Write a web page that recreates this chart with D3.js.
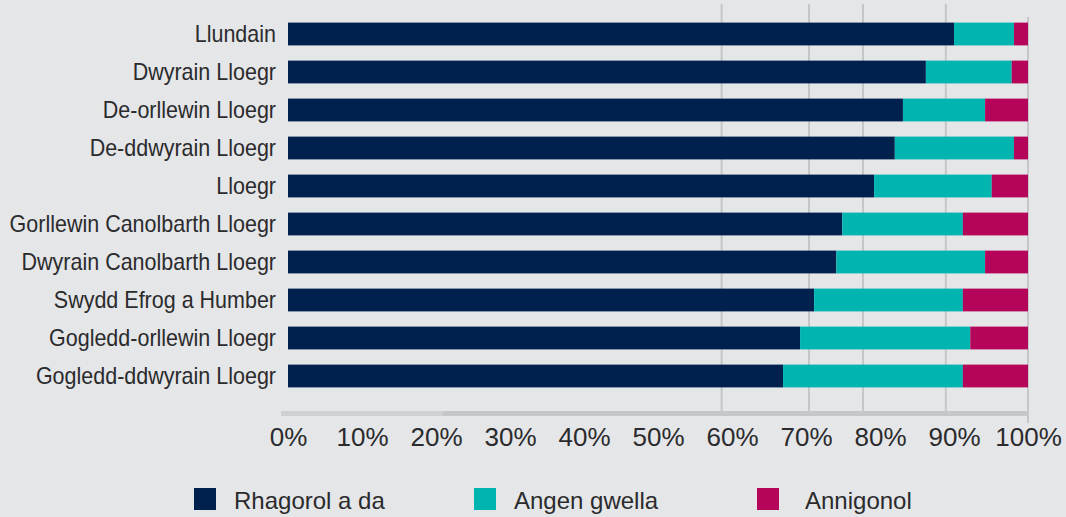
<!DOCTYPE html>
<html>
<head>
<meta charset="utf-8">
<script src="https://cdn.jsdelivr.net/npm/d3@7"></script>
<style>
  html, body { margin: 0; padding: 0; background: #e5e6e8; }
  svg { display: block; font-family: "Liberation Sans", Arial, sans-serif; }
</style>
</head>
<body>
<svg id="chart" width="1066" height="517"></svg>
<script>
// Regions, top to bottom
const regions = [
  "Llundain",
  "Dwyrain Lloegr",
  "De-orllewin Lloegr",
  "De-ddwyrain Lloegr",
  "Lloegr",
  "Gorllewin Canolbarth Lloegr",
  "Dwyrain Canolbarth Lloegr",
  "Swydd Efrog a Humber",
  "Gogledd-orllewin Lloegr",
  "Gogledd-ddwyrain Lloegr"
];

// Share of ratings (%) per region
const rhagorol = [90.0, 86.2, 83.1, 82.0, 79.2, 74.9, 74.1, 71.1, 69.2, 66.9];
const angenGwella = [8.1, 11.6, 11.1, 16.1, 15.9, 16.3, 20.1, 20.1, 23.0, 24.3];
const annigonol = [1.9, 2.2, 5.8, 1.9, 4.9, 8.8, 5.8, 8.8, 7.8, 8.8];

const seriesNames = ["Rhagorol a da", "Angen gwella", "Annigonol"];
const seriesColors = ["#00214d", "#00b5b0", "#b5055a"];

const tickValues = [0, 10, 20, 30, 40, 50, 60, 70, 80, 90, 100];
const gridValues = [58.6, 70.4, 77.7, 88.9];

const rows = regions.map((r, i) => ({
  region: r,
  "Rhagorol a da": rhagorol[i],
  "Angen gwella": angenGwella[i],
  "Annigonol": annigonol[i]
}));

const svg = d3.select("#chart");

const x = d3.scaleLinear().domain([0, 100]).range([288, 1028]);
const y = d3.scaleBand().domain(regions).range([15, 395]).paddingInner(0.4).paddingOuter(0.2);

// Vertical gridlines
svg.append("g")
  .selectAll("line")
  .data(gridValues)
  .join("line")
  .attr("x1", d => x(d)).attr("x2", d => x(d))
  .attr("y1", 4).attr("y2", 411)
  .attr("stroke", "#c5c6c8")
  .attr("stroke-width", 2);

// Right boundary line
svg.append("line")
  .attr("x1", x(100)).attr("x2", x(100))
  .attr("y1", 17).attr("y2", 423)
  .attr("stroke", "#c6c7c9")
  .attr("stroke-width", 2);

// Stacked bars
const stack = d3.stack().keys(seriesNames);
const stacked = stack(rows);

svg.append("g")
  .selectAll("g")
  .data(stacked)
  .join("g")
  .attr("fill", (d, i) => seriesColors[i])
  .selectAll("rect")
  .data(d => d)
  .join("rect")
  .attr("x", d => x(d[0]))
  .attr("y", d => y(d.data.region))
  .attr("width", d => x(d[1]) - x(d[0]))
  .attr("height", y.bandwidth());

// Category labels (slightly condensed)
svg.append("g")
  .selectAll("text")
  .data(regions)
  .join("text")
  .attr("transform", d => `translate(276,${y(d) + y.bandwidth() / 2}) scale(0.935,1)`)
  .attr("dy", "0.36em")
  .attr("text-anchor", "end")
  .attr("fill", "#2b2b2d")
  .style("font-size", "23px")
  .text(d => d);

// Baseline bar beneath the plot
svg.append("rect")
  .attr("x", 281).attr("y", 411)
  .attr("width", x(100) - 281).attr("height", 5)
  .attr("fill", "#c6c7c9");
svg.append("rect")
  .attr("x", 281).attr("y", 411)
  .attr("width", 443 - 281).attr("height", 5)
  .attr("fill", "#cfd0d2");

// Percentage axis
const axis = d3.axisBottom(x)
  .tickValues(tickValues)
  .tickFormat(d => d + "%")
  .tickSize(0)
  .tickPadding(0);

const ax = svg.append("g")
  .attr("transform", "translate(0,428)")
  .call(axis);
ax.select(".domain").remove();
ax.selectAll("text")
  .attr("dy", "0.71em")
  .attr("fill", "#2b2b2d")
  .style("font-size", "26px")
  .style("font-family", "'Liberation Sans', Arial, sans-serif");

// Legend
const legendX = [194, 474, 757];
const legendTextX = [234, 514, 805];
const legend = svg.append("g");
seriesNames.forEach((name, i) => {
  legend.append("rect")
    .attr("x", legendX[i]).attr("y", 488)
    .attr("width", 22).attr("height", 22)
    .attr("fill", seriesColors[i]);
  legend.append("text")
    .attr("x", legendTextX[i]).attr("y", 509)
    .attr("fill", "#2b2b2d")
    .style("font-size", "24px")
    .text(name);
});
</script>
</body>
</html>
